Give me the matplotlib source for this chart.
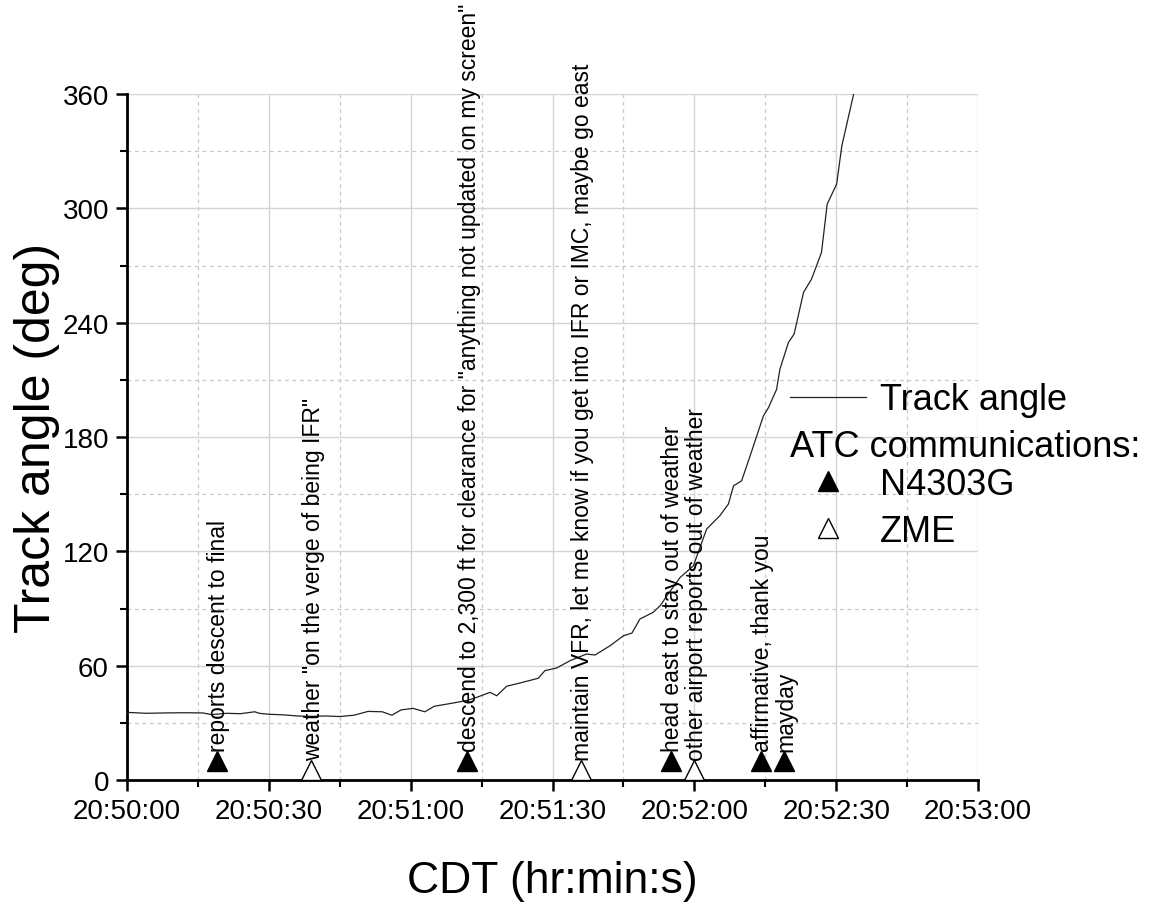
import matplotlib
matplotlib.use("Agg")
import matplotlib.pyplot as plt
from matplotlib.ticker import MultipleLocator, FuncFormatter
from matplotlib.lines import Line2D

plt.rcParams['font.family'] = ['Liberation Sans', 'DejaVu Sans']

# seconds after 20:50:00 CDT
base = 20 * 3600 + 50 * 60
track_t = [0, 4, 8, 12, 16, 18, 21, 24, 27, 28, 30, 33, 36, 39, 42, 45, 48, 51,
           54, 56, 58, 60.5, 63, 65, 69, 72, 74, 76.8, 78.2, 80.3, 83.1, 87,
           88.4, 90.9, 93.7, 97.2, 99, 102.2, 105, 106.8, 108.5, 111.3, 112.8,
           114.2, 117, 119.8, 122.6, 125.4, 127.2, 128.3, 130, 131.8, 134.6,
           135.7, 137.4, 138.1, 139.9, 141.1, 143.1, 144.8, 146.9, 148.1,
           150.1, 151.2, 153.7]
track_deg = [35.5, 35, 35.2, 35.3, 35.2, 34.3, 35, 34.8, 35.8, 35, 34.5, 34.2,
             33.6, 33.4, 33.6, 33.3, 34, 36, 35.8, 34, 36.8, 37.6, 35.8, 38.7,
             40.4, 41.8, 43.4, 46, 44.2, 49.2, 50.9, 53.4, 57.4, 58.8, 62.6,
             66.1, 65.6, 70.5, 75.7, 77.1, 84.5, 88, 91.5, 96.7, 106.3, 112.4,
             131.7, 138.7, 144.8, 154.4, 157, 170.1, 191, 195.5, 205, 215.6,
             229.6, 234, 255.9, 262.9, 276.9, 302.2, 312.7, 332.8, 360]

# ATC communications
pilot_t = [19, 72, 115, 134, 139]
pilot_y = [10, 10, 10, 10, 10]
pilot_msg = ["reports descent to final",
             'descend to 2,300 ft for clearance for "anything not updated on my screen"',
             "head east to stay out of weather",
             "affirmative, thank you",
             "mayday"]
zme_t = [39, 96, 120]
zme_y = [5, 5, 5]
zme_msg = ['weather "on the verge of being IFR"',
           "maintain VFR, let me know if you get into IFR or IMC, maybe go east",
           "other airport reports out of weather"]


def hms(v, pos):
    s = int(round(base + v))
    return f"{s // 3600:02d}:{s % 3600 // 60:02d}:{s % 60:02d}"


fig = plt.figure(figsize=(11.5, 9.03), dpi=100)
ax = fig.add_axes([127 / 1150, 1 - 781 / 903, 851 / 1150, 686 / 903])

line, = ax.plot(track_t, track_deg, color='#222222', lw=0.9, zorder=3)
ms = 14
ax.plot(pilot_t, pilot_y, ls='none', marker='^', ms=ms, mfc='black',
        mec='black', mew=1, zorder=4, clip_on=False)
ax.plot(zme_t, zme_y, ls='none', marker='^', ms=ms, mfc='white',
        mec='black', mew=1, zorder=4, clip_on=False)

for t, y, msg in zip(pilot_t + zme_t, pilot_y + zme_y, pilot_msg + zme_msg):
    ax.annotate(msg, (t, y), xytext=(1.5, 7.5), textcoords='offset points',
                rotation=90, rotation_mode='anchor', ha='left', va='center',
                fontsize=16.5, annotation_clip=False, zorder=5)

ax.set_xlim(0, 180)
ax.set_ylim(0, 360)
ax.xaxis.set_major_locator(MultipleLocator(30))
ax.xaxis.set_minor_locator(MultipleLocator(15))
ax.xaxis.set_major_formatter(FuncFormatter(hms))
ax.yaxis.set_major_locator(MultipleLocator(60))
ax.yaxis.set_minor_locator(MultipleLocator(30))

for side in ['top', 'right']:
    ax.spines[side].set_visible(False)
for side in ['left', 'bottom']:
    ax.spines[side].set_linewidth(2)
ax.tick_params(which='major', direction='out', length=8, width=1.8,
               labelsize=20, pad=5)
ax.tick_params(which='minor', direction='out', length=5, width=1.5)

ax.grid(which='major', color='#d4d4d4', lw=1, ls='-')
ax.grid(which='minor', color='#c8c8c8', lw=0.9, ls=(0, (3, 3)))
ax.set_axisbelow(True)

ax.set_xlabel("CDT (hr:min:s)", fontsize=32, labelpad=26)
ax.set_ylabel("Track angle (deg)", fontsize=36, labelpad=2)

# legend
leg_fs = 26
fig.legend([line], ["Track angle"], loc='center left',
           bbox_to_anchor=(790 / 1150, 1 - 401 / 903),
           frameon=False, fontsize=leg_fs, borderpad=0, borderaxespad=0,
           handlelength=2.1, handletextpad=0.4)
fig.text(790 / 1150, 1 - 448 / 903, "ATC communications:", fontsize=leg_fs,
         ha='left', va='center')
h_pilot = Line2D([], [], ls='none', marker='^', ms=ms, mfc='black', mec='black')
h_zme = Line2D([], [], ls='none', marker='^', ms=ms, mfc='white', mec='black')
fig.legend([h_pilot, h_zme], ["N4303G", "ZME"], loc='upper left',
           bbox_to_anchor=(790 / 1150, 1 - 468 / 903),
           frameon=False, fontsize=leg_fs, borderpad=0, borderaxespad=0,
           handlelength=2.1, handletextpad=0.4, labelspacing=0.32)

fig.savefig("out.png", dpi=100)
